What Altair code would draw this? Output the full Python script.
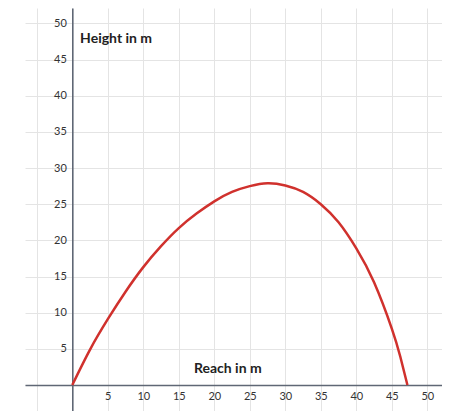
import altair as alt
import pandas as pd

# Trajectory
reach = [0, 2.5, 5, 7.5, 10, 12.5, 15, 17.5, 20, 22.5, 25, 27.5, 30, 32.5, 35, 37.5, 40, 42.5, 45, 46.2, 47.2]
height = [0, 4.9, 9.1, 12.9, 16.3, 19.2, 21.7, 23.7, 25.4, 26.7, 27.5, 27.9, 27.6, 26.7, 25.0, 22.5, 18.9, 14.2, 7.8, 3.9, 0]

x_ticks = [-5, 0, 5, 10, 15, 20, 25, 30, 35, 40, 45, 50]
y_ticks = [0, 5, 10, 15, 20, 25, 30, 35, 40, 45, 50]

title_text = ["Height in m", "Reach in m"]
title_x = [1.1, 21.9]
title_y = [47.9, 2.2]
title_align = ["left", "center"]

df = pd.DataFrame({"reach": reach, "height": height})
titles = pd.DataFrame({"x": title_x, "y": title_y, "text": title_text, "align": title_align})

xscale = alt.Scale(domain=[-6.66, 52.07], nice=False, zero=False)
yscale = alt.Scale(domain=[-3.6, 52.14], nice=False, zero=False)

common = dict(grid=True, gridColor="#e4e4e4", gridWidth=1, ticks=False,
              domainColor="#5f6775", domainWidth=1.6, labelFont="Lato",
              labelFontSize=11, labelColor="#333333", title=None,
              labelOverlap=False, labelBound=False, labelFlush=False,
              labelExpr="datum.value <= 0 ? '' : datum.label")

x_axis = alt.Axis(values=x_ticks, offset=-26, labelPadding=5, **common)
y_axis = alt.Axis(values=y_ticks, offset=-47.3, labelPadding=6, **common)

line = alt.Chart(df).mark_line(color="#d0312d", strokeWidth=2.5, interpolate="natural").encode(
    x=alt.X("reach:Q", scale=xscale, axis=x_axis),
    y=alt.Y("height:Q", scale=yscale, axis=y_axis),
)

t_left = alt.Chart(titles[titles["align"] == "left"]).mark_text(
    align="left", baseline="middle", font="Lato", fontSize=14, fontWeight="bold", color="#222222"
).encode(x=alt.X("x:Q", scale=xscale, axis=x_axis), y=alt.Y("y:Q", scale=yscale, axis=y_axis), text="text:N")

t_center = alt.Chart(titles[titles["align"] == "center"]).mark_text(
    align="center", baseline="middle", font="Lato", fontSize=14, fontWeight="bold", color="#222222"
).encode(x=alt.X("x:Q", scale=xscale, axis=x_axis), y=alt.Y("y:Q", scale=yscale, axis=y_axis), text="text:N")

chart = alt.layer(line, t_left, t_center).properties(
    width=417, height=403,
    autosize=alt.AutoSizeParams(type="none"),
    padding={"left": 17, "top": 0, "right": 0, "bottom": 0},
).configure_view(stroke=None)

chart.save("out.html", embed_options={"renderer": "svg", "actions": False})
